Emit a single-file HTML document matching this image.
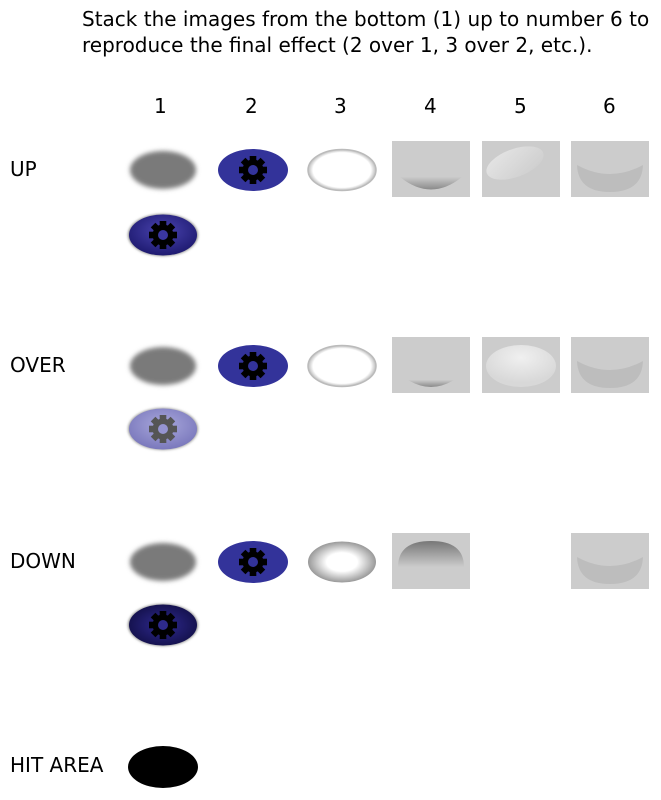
<!DOCTYPE html>
<html><head><meta charset="utf-8">
<style>
html,body{margin:0;padding:0;background:#fff;}
svg{display:block;}
text{font-family:"DejaVu Sans","Liberation Sans",sans-serif;font-size:20px;fill:#000;}
</style></head>
<body>
<svg width="661" height="800" viewBox="0 0 661 800" xmlns="http://www.w3.org/2000/svg">
<defs>
  <filter id="blur" x="-30%" y="-30%" width="160%" height="160%"><feGaussianBlur stdDeviation="2.5"/></filter>
  <filter id="sh" x="-30%" y="-30%" width="160%" height="160%"><feGaussianBlur stdDeviation="1.2"/></filter>
  <radialGradient id="ring" cx="50%" cy="50%" r="50%">
    <stop offset="0.85" stop-color="#fff"/><stop offset="1" stop-color="#bbb"/>
  </radialGradient>
  <radialGradient id="ringD" cx="50%" cy="50%" r="50%">
    <stop offset="0.45" stop-color="#fff"/><stop offset="1" stop-color="#999"/>
  </radialGradient>
  <linearGradient id="bot" x1="0" y1="0" x2="0" y2="1">
    <stop offset="0" stop-color="#cbcbcb"/><stop offset="1" stop-color="#8a8a8a"/>
  </linearGradient>
  <linearGradient id="top" x1="0" y1="0" x2="0" y2="1">
    <stop offset="0" stop-color="#777"/><stop offset="1" stop-color="#cccccc"/>
  </linearGradient>
  <linearGradient id="gl" x1="0" y1="0" x2="1" y2="1">
    <stop offset="0" stop-color="#e6e6e6"/><stop offset="1" stop-color="#cccccc"/>
  </linearGradient>
  <radialGradient id="gl2" cx="50%" cy="30%" r="60%">
    <stop offset="0" stop-color="#f0f0f0"/><stop offset="1" stop-color="#d8d8d8"/>
  </radialGradient>
  <radialGradient id="upB" cx="50%" cy="40%" r="60%">
    <stop offset="0" stop-color="#4a44b0"/><stop offset="1" stop-color="#1e1a70"/>
  </radialGradient>
  <radialGradient id="ovB" cx="50%" cy="40%" r="60%">
    <stop offset="0" stop-color="#a9a8dc"/><stop offset="1" stop-color="#7a78bc"/>
  </radialGradient>
  <radialGradient id="dnB" cx="50%" cy="50%" r="55%">
    <stop offset="0" stop-color="#2f2a90"/><stop offset="1" stop-color="#13104a"/>
  </radialGradient>
  <g id="gear">
    <circle r="10.5" fill="currentColor"/>
    <g fill="currentColor">
      <rect x="-3.3" y="-14" width="6.6" height="28"/>
      <rect x="-3.3" y="-14" width="6.6" height="28" transform="rotate(45)"/>
      <rect x="-3.3" y="-14" width="6.6" height="28" transform="rotate(90)"/>
      <rect x="-3.3" y="-14" width="6.6" height="28" transform="rotate(135)"/>
    </g>
  </g>
</defs>

<text x="82" y="26">Stack the images from the bottom (1) up to number 6 to</text>
<text x="82" y="52">reproduce the final effect (2 over 1, 3 over 2, etc.).</text>
<text x="154" y="113">1</text><text x="245" y="113">2</text><text x="334" y="113">3</text>
<text x="424" y="113">4</text><text x="514" y="113">5</text><text x="603" y="113">6</text>

<text x="10" y="176">UP</text>
<text x="10" y="372">OVER</text>
<text x="10" y="568">DOWN</text>
<text x="10" y="772">HIT AREA</text>

<!-- UP row -->
<g>
  <ellipse cx="163" cy="170" rx="33" ry="19" fill="#7a7a7a" filter="url(#blur)"/>
  <ellipse cx="253" cy="170" rx="35" ry="21" fill="#33339a"/>
  <g transform="translate(253,170)" color="#000"><use href="#gear"/><circle r="5" fill="#33339a"/></g>
  <ellipse cx="342" cy="170" rx="34" ry="20.5" fill="url(#ring)"/>
  <ellipse cx="342" cy="170" rx="34" ry="20.5" fill="none" stroke="#bbb" stroke-width="1.5"/>
  <rect x="392" y="141" width="78" height="56" fill="#cccccc"/>
  <path d="M400 177 Q431 202 462 177 Z" fill="url(#bot)"/>
  <rect x="482" y="141" width="78" height="56" fill="#cccccc"/>
  <ellipse cx="515" cy="163" rx="30" ry="14" fill="url(#gl)" transform="rotate(-20 515 163)"/>
  <rect x="571" y="141" width="78" height="56" fill="#cccccc"/>
  <path d="M577 165 Q610 183 643 165 Q642 192 610 192 Q578 192 577 165 Z" fill="#bdbdbd"/>
  <ellipse cx="163" cy="235" rx="35" ry="21" fill="#888" filter="url(#sh)"/>
  <ellipse cx="163" cy="235" rx="34" ry="20.5" fill="url(#upB)"/>
  <g transform="translate(163,235)" color="#000"><use href="#gear"/><circle r="5" fill="#3a36a0"/></g>
</g>

<!-- OVER row -->
<g>
  <ellipse cx="163" cy="366" rx="33" ry="19" fill="#7a7a7a" filter="url(#blur)"/>
  <ellipse cx="253" cy="366" rx="35" ry="21" fill="#33339a"/>
  <g transform="translate(253,366)" color="#000"><use href="#gear"/><circle r="5" fill="#33339a"/></g>
  <ellipse cx="342" cy="366" rx="34" ry="20.5" fill="url(#ring)"/>
  <ellipse cx="342" cy="366" rx="34" ry="20.5" fill="none" stroke="#bbb" stroke-width="1.5"/>
  <rect x="392" y="337" width="78" height="56" fill="#cccccc"/>
  <path d="M408 380 Q431 394 454 380 Z" fill="url(#bot)"/>
  <rect x="482" y="337" width="78" height="56" fill="#cccccc"/>
  <ellipse cx="521" cy="366" rx="35" ry="21" fill="url(#gl2)"/>
  <rect x="571" y="337" width="78" height="56" fill="#cccccc"/>
  <path d="M577 361 Q610 379 643 361 Q642 388 610 388 Q578 388 577 361 Z" fill="#bdbdbd"/>
  <ellipse cx="163" cy="429" rx="35" ry="21" fill="#999" filter="url(#sh)"/>
  <ellipse cx="163" cy="429" rx="34" ry="20.5" fill="url(#ovB)"/>
  <g transform="translate(163,429)" color="#555"><use href="#gear"/><circle r="5" fill="#9594d0"/></g>
</g>

<!-- DOWN row -->
<g>
  <ellipse cx="163" cy="562" rx="33" ry="19" fill="#7a7a7a" filter="url(#blur)"/>
  <ellipse cx="253" cy="562" rx="35" ry="21" fill="#33339a"/>
  <g transform="translate(253,562)" color="#000"><use href="#gear"/><circle r="5" fill="#33339a"/></g>
  <ellipse cx="342" cy="562" rx="34" ry="20.5" fill="url(#ringD)"/>
  <rect x="392" y="533" width="78" height="56" fill="#cccccc"/>
  <path d="M398 567 Q398 541 431 541 Q464 541 464 567 Z" fill="url(#top)"/>
  <rect x="571" y="533" width="78" height="56" fill="#cccccc"/>
  <path d="M577 557 Q610 575 643 557 Q642 584 610 584 Q578 584 577 557 Z" fill="#bdbdbd"/>
  <ellipse cx="163" cy="625" rx="35" ry="21" fill="#888" filter="url(#sh)"/>
  <ellipse cx="163" cy="625" rx="34" ry="20.5" fill="url(#dnB)"/>
  <g transform="translate(163,625)" color="#000"><use href="#gear"/><circle r="5" fill="#2e2a8c"/></g>
</g>

<!-- HIT AREA -->
<ellipse cx="163" cy="767" rx="35" ry="21" fill="#000"/>
</svg>
</body></html>
